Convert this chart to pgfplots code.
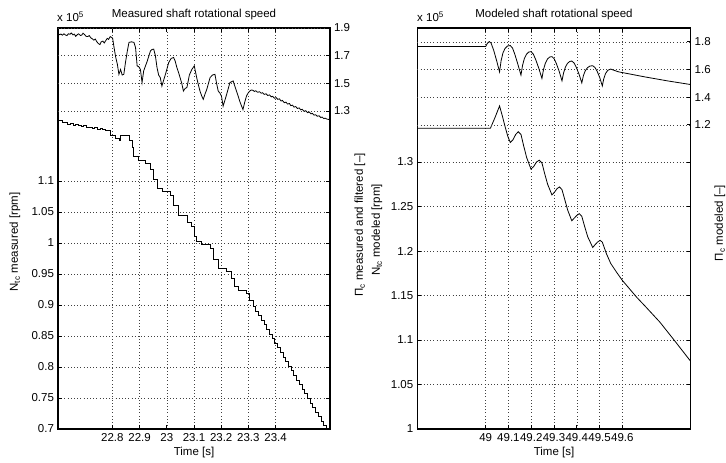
\documentclass[border=0pt]{standalone}
\usepackage{pgfplots}
\pgfplotsset{compat=1.18}
\usepackage{fontspec}
\setmainfont{Liberation Sans}
\pgfplotsset{
  base/.style={
    scale only axis, height=401bp,
    font=\fontsize{11.5bp}{13bp}\selectfont,
    tick align=inside, major tick length=4bp,
    axis line style={line width=1.1bp},
    every tick/.style={black, line width=0.7bp},
    /pgf/number format/assume math mode=true,
    scaled ticks=false,
    grid style={black!75, line width=0.5bp, dash pattern=on 0.6bp off 2.6bp},
    tick label style={font=\fontsize{11.5bp}{13bp}\selectfont},
    clip=true,
  },
  ln/.style={black, line width=0.8bp, no marks},
}
\begin{document}
\fontsize{11.5bp}{13bp}\selectfont
\begin{tikzpicture}[x=1bp,y=1bp]
% ---------------- LEFT PANEL ----------------
\begin{axis}[base, at={(58bp,34bp)}, anchor=south west, width=272bp,
  xmin=22.6, xmax=23.6, ymin=0.7, ymax=1.3468,
  xtick={22.8,22.9,23,23.1,23.2,23.3,23.4},
  xticklabels={22.8,22.9,23,23.1,23.2,23.3,23.4},
  ytick={0.7,0.75,0.8,0.85,0.9,0.95,1,1.05,1.1},
  yticklabels={0.7,0.75,0.8,0.85,0.9,0.95,1,1.05,1.1},
  tick pos=both, xmajorgrids, ymajorgrids]
\addplot[ln, const plot] coordinates {
(22.600,1.197)(22.615,1.194)(22.625,1.195)(22.635,1.192)(22.645,1.193)
(22.655,1.190)(22.665,1.191)(22.675,1.189)(22.685,1.188)(22.695,1.189)
(22.705,1.186)(22.715,1.187)(22.725,1.185)(22.735,1.186)(22.745,1.184)
(22.755,1.185)(22.765,1.183)(22.776,1.182)(22.794,1.174)(22.812,1.169)
(22.824,1.166)(22.830,1.173)(22.855,1.173)(22.861,1.166)(22.873,1.155)
(22.879,1.139)(22.897,1.134)(22.922,1.128)(22.940,1.118)(22.952,1.102)
(22.964,1.088)(22.982,1.083)(23.013,1.077)(23.025,1.061)(23.043,1.045)
(23.074,1.034)(23.092,1.026)(23.101,1.010)(23.110,1.002)(23.128,0.997)
(23.159,0.991)(23.171,0.973)(23.189,0.959)(23.220,0.954)(23.238,0.943)
(23.250,0.930)(23.262,0.924)(23.293,0.919)(23.305,0.908)(23.317,0.897)
(23.327,0.890)(23.337,0.883)(23.347,0.875)(23.357,0.868)(23.367,0.861)
(23.377,0.853)(23.387,0.846)(23.397,0.838)(23.407,0.831)(23.417,0.824)
(23.427,0.816)(23.437,0.809)(23.447,0.801)(23.457,0.794)(23.467,0.787)
(23.477,0.779)(23.487,0.772)(23.497,0.764)(23.507,0.757)(23.517,0.750)
(23.527,0.742)(23.537,0.735)(23.547,0.727)(23.557,0.720)(23.567,0.713)
(23.577,0.706)(23.587,0.700)(23.600,0.700)
};
\end{axis}
\begin{axis}[base, at={(58bp,34bp)}, anchor=south west, width=272bp,
  xmin=22.6, xmax=23.6, ymin=-1.0, ymax=1.9,
  axis y line*=right, axis x line=none,
  ytick={1.3,1.5,1.7,1.9}, yticklabels={1.3,1.5,1.7,1.9},
  ymajorgrids]
\addplot[ln] coordinates {
(22.600,1.860)(22.605,1.852)(22.611,1.856)(22.616,1.848)(22.622,1.858)
(22.627,1.850)(22.633,1.845)(22.638,1.858)(22.644,1.855)(22.649,1.864)
(22.655,1.850)(22.660,1.856)(22.665,1.840)(22.671,1.852)(22.676,1.858)
(22.682,1.846)(22.687,1.848)(22.692,1.862)(22.698,1.852)(22.703,1.840)
(22.709,1.838)(22.715,1.845)(22.721,1.828)(22.726,1.822)(22.732,1.812)
(22.737,1.820)(22.743,1.800)(22.748,1.788)(22.754,1.780)(22.759,1.800)
(22.765,1.805)(22.770,1.792)(22.776,1.810)(22.781,1.825)(22.786,1.818)
(22.792,1.838)(22.797,1.832)(22.801,1.825)(22.806,1.760)(22.812,1.690)
(22.818,1.640)(22.824,1.565)(22.830,1.600)(22.836,1.560)(22.842,1.565)
(22.848,1.650)(22.855,1.735)(22.861,1.796)(22.870,1.800)(22.879,1.796)
(22.885,1.760)(22.891,1.626)(22.897,1.620)(22.903,1.600)(22.909,1.505)
(22.915,1.590)(22.928,1.660)(22.940,1.735)(22.946,1.745)(22.952,1.747)
(22.958,1.700)(22.964,1.614)(22.970,1.560)(22.976,1.541)(22.982,1.480)
(22.988,1.520)(22.995,1.565)(23.007,1.650)(23.016,1.680)(23.025,1.687)
(23.031,1.660)(23.037,1.614)(23.043,1.580)(23.049,1.540)(23.055,1.500)
(23.061,1.444)(23.067,1.462)(23.074,1.470)(23.083,1.560)(23.092,1.600)
(23.101,1.626)(23.110,1.540)(23.116,1.490)(23.122,1.444)(23.128,1.410)
(23.134,1.384)(23.140,1.420)(23.147,1.456)(23.159,1.541)(23.168,1.560)
(23.177,1.565)(23.183,1.500)(23.189,1.444)(23.195,1.430)(23.201,1.408)
(23.207,1.335)(23.214,1.380)(23.220,1.420)(23.232,1.505)(23.244,1.517)
(23.250,1.480)(23.256,1.444)(23.262,1.410)(23.268,1.371)(23.274,1.340)
(23.280,1.310)(23.286,1.360)(23.293,1.408)(23.299,1.430)(23.305,1.444)
(23.311,1.452)(23.317,1.449)(23.322,1.441)(23.327,1.446)(23.334,1.435)
(23.341,1.439)(23.347,1.428)(23.352,1.432)(23.358,1.420)(23.365,1.424)
(23.371,1.412)(23.378,1.416)(23.384,1.402)(23.389,1.406)(23.396,1.392)
(23.402,1.396)(23.408,1.384)(23.414,1.388)(23.420,1.372)(23.425,1.376)
(23.432,1.360)(23.438,1.364)(23.444,1.350)(23.451,1.354)(23.456,1.338)
(23.462,1.342)(23.468,1.328)(23.474,1.332)(23.480,1.318)(23.487,1.322)
(23.492,1.308)(23.498,1.312)(23.504,1.298)(23.511,1.302)(23.517,1.288)
(23.524,1.292)(23.530,1.279)(23.535,1.283)(23.541,1.270)(23.547,1.273)
(23.553,1.262)(23.560,1.265)(23.566,1.252)(23.571,1.256)(23.577,1.245)
(23.582,1.248)(23.590,1.240)(23.600,1.238)
};
\end{axis}
% ---------------- RIGHT PANEL ----------------
\begin{axis}[base, at={(417.3bp,34bp)}, anchor=south west, width=273.4bp,
  xmin=48.7, xmax=49.9, ymin=1, ymax=1.4506,
  xtick={49,49.1,49.2,49.3,49.4,49.5,49.6},
  xticklabels={49,49.1,49.2,49.3,49.4,49.5,49.6},
  ytick={1,1.05,1.1,1.15,1.2,1.25,1.3},
  yticklabels={1,1.05,1.1,1.15,1.2,1.25,1.3},
  tick pos=both, xmajorgrids, ymajorgrids]
\addplot[ln] coordinates {
(48.700,1.338)(49.021,1.338)(49.041,1.350)(49.061,1.363)(49.073,1.352)
(49.085,1.340)(49.097,1.329)(49.108,1.322)(49.120,1.325)(49.132,1.331)
(49.143,1.334)(49.155,1.331)(49.167,1.318)(49.180,1.305)(49.199,1.292)
(49.211,1.295)(49.223,1.300)(49.235,1.302)(49.247,1.299)(49.259,1.287)
(49.272,1.275)(49.291,1.263)(49.302,1.266)(49.313,1.270)(49.324,1.272)
(49.335,1.269)(49.347,1.258)(49.360,1.246)(49.378,1.234)(49.389,1.237)
(49.400,1.240)(49.411,1.242)(49.422,1.239)(49.434,1.228)(49.448,1.216)
(49.470,1.204)(49.480,1.207)(49.491,1.210)(49.502,1.212)(49.512,1.210)
(49.530,1.197)(49.549,1.186)(49.575,1.176)(49.600,1.167)(49.663,1.148)
(49.700,1.138)(49.765,1.120)(49.830,1.099)(49.900,1.076)
};
\end{axis}
\begin{axis}[base, at={(417.3bp,34bp)}, anchor=south west, width=273.4bp,
  xmin=48.7, xmax=49.9, ymin=-1.0, ymax=1.9,
  axis y line*=right, axis x line=none,
  ytick={1.2,1.4,1.6,1.8}, yticklabels={1.2,1.4,1.6,1.8},
  ymajorgrids]
\addplot[ln] coordinates {
(48.700,1.766)(49.000,1.766)(49.008,1.790)(49.016,1.802)(49.024,1.790)
(49.035,1.740)(49.048,1.665)(49.061,1.583)(49.068,1.665)(49.076,1.720)
(49.085,1.752)(49.096,1.770)(49.108,1.773)(49.118,1.755)(49.128,1.710)
(49.141,1.640)(49.155,1.559)(49.162,1.630)(49.170,1.680)(49.179,1.710)
(49.189,1.726)(49.199,1.729)(49.209,1.712)(49.220,1.670)(49.233,1.610)
(49.247,1.535)(49.254,1.600)(49.262,1.645)(49.271,1.675)(49.281,1.690)
(49.291,1.693)(49.301,1.677)(49.311,1.640)(49.323,1.585)(49.335,1.518)
(49.342,1.575)(49.350,1.617)(49.359,1.644)(49.369,1.658)(49.378,1.661)
(49.388,1.647)(49.398,1.615)(49.410,1.565)(49.422,1.503)(49.429,1.555)
(49.437,1.590)(49.447,1.613)(49.458,1.625)(49.470,1.627)(49.480,1.614)
(49.490,1.585)(49.501,1.540)(49.512,1.481)(49.518,1.530)(49.526,1.570)
(49.536,1.594)(49.549,1.603)(49.565,1.593)(49.583,1.583)(49.700,1.546)
(49.800,1.517)(49.900,1.491)
};
\end{axis}
% ---------------- TEXTS ----------------
\node[anchor=base] at (194bp,445bp) {Measured shaft rotational speed};
\node[anchor=base] at (554bp,445bp) {Modeled shaft rotational speed};
\node[anchor=base west, inner sep=0pt] at (57bp,441bp) {x 10\textsuperscript{5}};
\node[anchor=base west, inner sep=0pt] at (417bp,441bp) {x 10\textsuperscript{5}};
\node[anchor=base, inner sep=0pt] at (194bp,8bp) {Time [s]};
\node[anchor=base, inner sep=0pt] at (554bp,8bp) {Time [s]};
\node[rotate=90, inner sep=0pt] at (15bp,221bp) {N\textsubscript{tc} measured [rpm]};
\node[rotate=90, inner sep=0pt] at (360bp,238bp) {Π\textsubscript{c} measured and filtered [--]};
\node[rotate=90, inner sep=0pt] at (377bp,233bp) {N\textsubscript{tc} modeled [rpm]};
\node[rotate=90, inner sep=0pt] at (720bp,240bp) {Π\textsubscript{c} modeled [--]};
\pgfresetboundingbox
\path (0,0) rectangle (726bp,463bp);
\end{tikzpicture}
\end{document}
